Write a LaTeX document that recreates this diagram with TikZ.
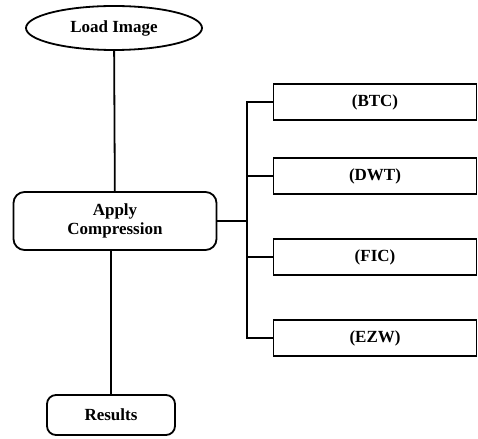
\documentclass[tikz,border=0pt]{standalone}
\usepackage{fontspec}
\setmainfont{Liberation Serif}
\usetikzlibrary{shapes.geometric}

\begin{document}
\begin{tikzpicture}[x=1pt,y=-1pt,line width=1.8pt,
    font=\fontsize{17}{19}\selectfont\bfseries]
    \useasboundingbox (0,0) rectangle (478,438);
    \node[shape=ellipse, draw=black, minimum width=176, minimum height=44, inner sep=0] at (114,28) (LI) {Load Image};
    \node[shape=rectangle, rounded corners=11, draw=black, minimum width=203, minimum height=58, align=center] at (115,221) (AC) {Apply\\Compression};
    \node[shape=rectangle, rounded corners=9, draw=black, minimum width=128, minimum height=40] at (111,415) (R) {Results};
    \node[shape=rectangle, draw=black, minimum width=203, minimum height=36] at (375,102) (BTC) {(BTC)};
    \node[shape=rectangle, draw=black, minimum width=203, minimum height=36] at (375,176) (DWT) {(DWT)};
    \node[shape=rectangle, draw=black, minimum width=203, minimum height=36] at (375,257) (FIC) {(FIC)};
    \node[shape=rectangle, draw=black, minimum width=203, minimum height=36] at (375,338) (EZW) {(EZW)};
    \coordinate (J) at (247,221);
    \draw (LI) -- (AC);
    \draw (R.north) -- (R.north |- AC.south);
    \draw (AC.east) -- (J);
    \draw (J) |- (BTC.west);
    \draw (J) |- (DWT.west);
    \draw (J) |- (FIC.west);
    \draw (J) |- (EZW.west);
\end{tikzpicture}
\end{document}
